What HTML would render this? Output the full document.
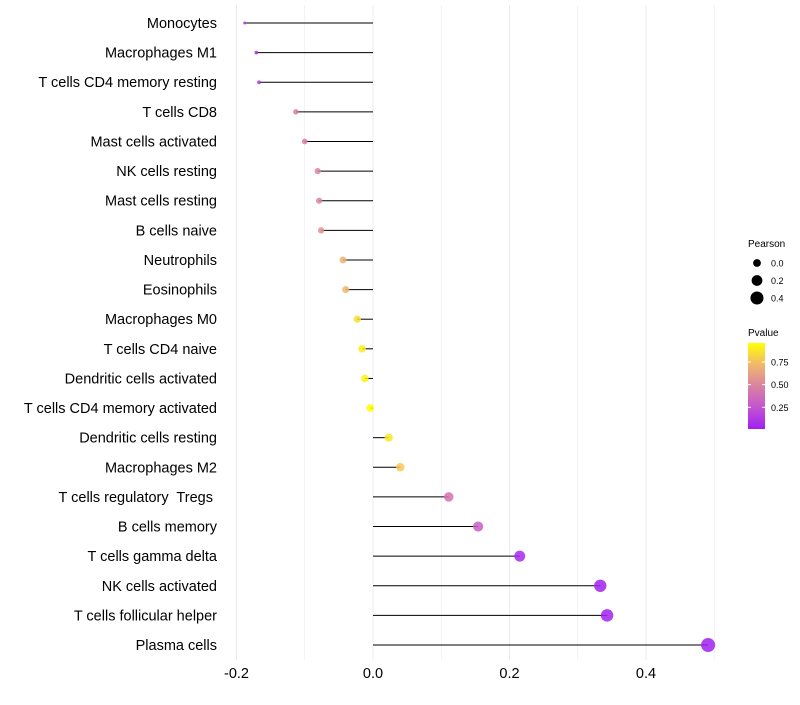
<!DOCTYPE html>
<html><head><meta charset="utf-8"><style>
body{margin:0;background:#fff;font-family:"Liberation Sans",sans-serif}
svg text{font-family:"Liberation Sans",sans-serif;white-space:pre}
</style></head><body>
<svg id="chart" width="800" height="700"></svg>
<script>
const categories=["Monocytes","Macrophages M1","T cells CD4 memory resting","T cells CD8","Mast cells activated","NK cells resting","Mast cells resting","B cells naive","Neutrophils","Eosinophils","Macrophages M0","T cells CD4 naive","Dendritic cells activated","T cells CD4 memory activated","Dendritic cells resting","Macrophages M2","T cells regulatory  Tregs ","B cells memory","T cells gamma delta","NK cells activated","T cells follicular helper","Plasma cells"];
const pearson=[-0.188,-0.171,-0.167,-0.113,-0.100,-0.081,-0.079,-0.076,-0.044,-0.040,-0.023,-0.016,-0.012,-0.004,0.023,0.040,0.111,0.154,0.215,0.333,0.343,0.491];
const pvalue=[0.1,0.1,0.12,0.45,0.45,0.5,0.5,0.55,0.7,0.72,0.85,0.9,0.92,0.96,0.88,0.78,0.4,0.3,0.05,0.02,0.02,0.01];
const xTicks=[-0.2,0,0.2,0.4];
const xTickLabels=["-0.2","0.0","0.2","0.4"];
const sizeLegend=[0.0,0.2,0.4];
const colorTicks=[0.25,0.5,0.75];

const NS="http://www.w3.org/2000/svg";
const svg=document.getElementById('chart');
function el(t,a,p){const e=document.createElementNS(NS,t);for(const k in a)e.setAttribute(k,a[k]);(p||svg).appendChild(e);return e;}
const x=v=>373+v*682.5;
const y=i=>23+i*(622/21);
const rad=v=>Math.sqrt(Math.max(1,15.2+68.9*v));
const stops=[[0,[160,32,240]],[0.25,[196,84,210]],[0.5,[218,130,160]],[0.75,[240,184,110]],[1,[255,255,0]]];
function col(p){p=Math.max(0,Math.min(1,(p-0.01)/0.95));for(let i=1;i<stops.length;i++){if(p<=stops[i][0]){const a=stops[i-1],b=stops[i],t=(p-a[0])/(b[0]-a[0]);return 'rgb('+a[1].map((c,j)=>Math.round(c+(b[1][j]-c)*t)).join(',')+')';}}return 'rgb(255,255,0)';}

for(let v=-0.2;v<=0.5;v+=0.1){const g=el('line',{x1:x(v),x2:x(v),y1:5,y2:660,stroke:'#ebebeb','stroke-width':Math.abs(Math.round(v*10))%2===0?1:0.6});
}
xTicks.forEach((v,i)=>{const t=el('text',{x:x(v),y:678,'text-anchor':'middle','font-size':14.5,fill:'#000'});t.textContent=xTickLabels[i];
});
categories.forEach((c,i)=>{
 const t=el('text',{x:217,y:y(i)+5,'text-anchor':'end','font-size':14.5,fill:'#000'});t.textContent=c;
 
 const l=el('line',{x1:x(0),x2:x(pearson[i]),y1:y(i),y2:y(i),stroke:'#000','stroke-width':1});
 
 const d=el('circle',{cx:x(pearson[i]),cy:y(i),r:rad(pearson[i]),fill:col(pvalue[i]),'fill-opacity':0.85});
 
});
let t=el('text',{x:748,y:247,'font-size':10});t.textContent='Pearson';

sizeLegend.forEach((v,i)=>{const cy=263+i*17.5;
 const c=el('circle',{cx:757,cy:cy,r:rad(v),fill:'#000'});
 const tt=el('text',{x:771,y:cy+3.5,'font-size':9});tt.textContent=v.toFixed(1);});
t=el('text',{x:748,y:336,'font-size':10});t.textContent='Pvalue';

const defs=el('defs',{});const lg=el('linearGradient',{id:'pg',x1:0,y1:1,x2:0,y2:0},defs);
for(let k=0;k<=10;k++){el('stop',{offset:k/10,'stop-color':col(0.01+0.95*k/10)},lg);}
const bar=el('rect',{x:748,y:343,width:17,height:86,fill:'url(#pg)'});

colorTicks.forEach(v=>{const cy=429-(v-0.01)/0.95*86;
 el('line',{x1:748,x2:751,y1:cy,y2:cy,stroke:'#fff'});el('line',{x1:762,x2:765,y1:cy,y2:cy,stroke:'#fff'});
 const tt=el('text',{x:771,y:cy+3.5,'font-size':9});tt.textContent=v.toFixed(2);});
</script>
</body></html>
